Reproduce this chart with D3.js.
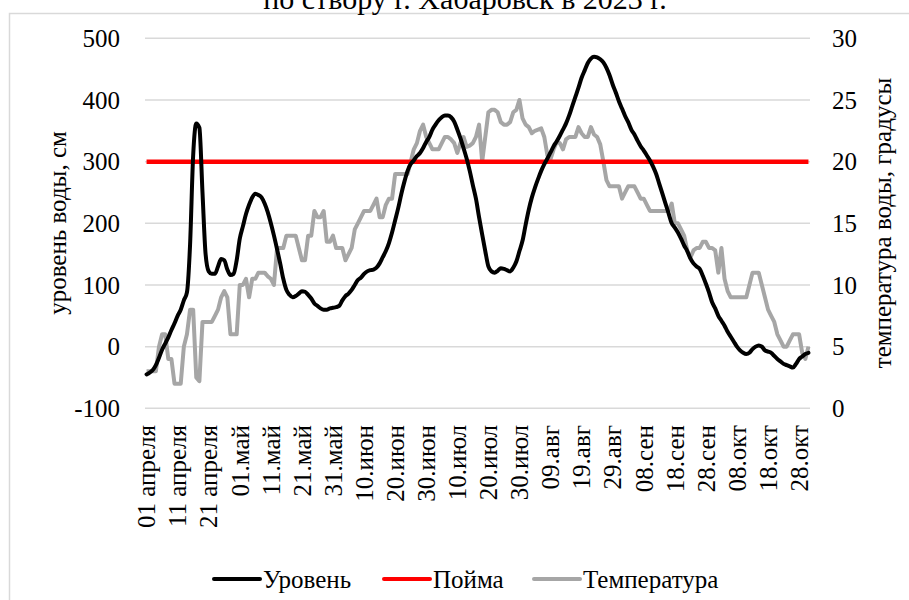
<!DOCTYPE html>
<html lang="ru">
<head>
<meta charset="utf-8">
<title>Уровень воды, Хабаровск 2023</title>
<script src="https://cdn.jsdelivr.net/npm/d3@7"></script>
<style>
  body { margin: 0; background: #fff; }
  svg { display: block; }
  text { font-family: "Liberation Serif", "Times New Roman", serif; fill: #000; }
</style>
</head>
<body>
<svg id="chart"></svg>
<script>

// уровень воды, см (ежедневно, 01.04 - 31.10)
var level = [
  -45,-42,-38,-30,-18,-5,5,15,27,38,50,60,75,88,165,310,362,355,250,150,
  122,118,118,130,142,140,125,116,118,140,175,195,215,230,242,248,246,242,232,218,
  200,180,158,135,110,92,84,80,82,86,90,89,84,78,70,66,62,60,60,62,
  63,64,66,75,82,86,92,100,108,112,118,122,124,125,128,135,145,155,168,185,
  205,225,248,268,285,296,302,309,314,322,332,340,352,360,367,372,375,375,372,365,
  352,338,322,305,285,262,240,210,182,155,130,122,120,123,127,126,124,122,128,138,
  155,172,198,222,242,258,272,285,296,305,315,325,333,342,352,362,375,390,405,420,
  436,448,460,467,470,469,466,461,452,440,425,412,398,386,374,364,352,344,334,325,
  318,310,302,292,280,264,248,232,216,200,193,185,175,164,155,143,135,130,126,115,
  102,88,72,62,50,42,34,24,16,8,0,-6,-10,-12,-10,-4,0,2,0,-6,
  -8,-10,-15,-20,-24,-28,-30,-32,-34,-28,-20,-16,-12,-10
];

// температура воды, градусы
var temperature = [
  3,3,3,3,5,6,6,4,4,2,2,2,5,6,8,8,2.5,2.2,7,7,
  7,7,7.5,8,9,9.5,9,6,6,6,10,10,10.5,9,10.5,10.5,11,11,11,10.7,
  10.5,10,13,13,13,14,14,14,14,13,12,12,14,14,16,15.5,15.5,16,13.5,13.5,
  14,13,13,13,12,12.5,13,14.5,15,15.5,16,16,16,16.5,17,15.5,15.5,16.5,17,17,
  19,19,19,19,19,20,21,21.5,22.5,23,22,21.5,21,21,21,21.5,22,22,21.8,21.5,
  20.7,21.5,22,21.2,21.3,21.5,22,23,20,22,24,24.2,24.2,24,23.2,23,23,23.2,24,24.2,
  25,23.5,23,22.8,22.3,22.5,22.6,22.7,22,20.5,20.2,21,21.6,21.5,21,21.8,22,22,22,22.8,
  22.3,22,22,22.8,22.2,22,21.4,20,18.5,18,18,18,18,17,17.5,18,18,18,17.5,17,
  17,16.5,16,16,16,16,16,16,16,16.6,15,15,14.5,14,12.8,12.2,12.8,13,13,13.5,
  13.5,13,13,12.8,11,13,10.5,9.5,9,9,9,9,9,9,10,11,11,11,10,9,
  8,7.5,7,6,5.5,5,5,5.5,6,6,6,4.5,4,5
];

// пойма, см
var floodplain = 300;

var xTickLabels = ["01 апреля","11 апреля","21 апреля","01.май","11.май","21.май","31.май",
  "10.июн","20.июн","30.июн","10.июл","20.июл","30.июл","09.авг","19.авг","29.авг",
  "08.сен","18.сен","28.сен","08.окт","18.окт","28.окт"];
var levelTicks = [-100, 0, 100, 200, 300, 400, 500];
var tempTicks = [0, 5, 10, 15, 20, 25, 30];

var width = 909, height = 600;
var fontSize = 25;

var svg = d3.select("#chart")
    .attr("width", width)
    .attr("height", height);

// рамка диаграммы
svg.append("rect")
    .attr("x", 9.5).attr("y", 13.5)
    .attr("width", 1000).attr("height", 700)
    .attr("fill", "none")
    .attr("stroke", "#d9d9d9")
    .attr("stroke-width", 1.5);

// заголовок (обрезан сверху)
svg.append("text")
    .attr("x", 465).attr("y", 9)
    .attr("text-anchor", "middle")
    .style("font-size", "30px")
    .text("по створу г. Хабаровск в 2023 г.");

var days = d3.range(level.length);

var x = d3.scalePoint()
    .domain(days)
    .range([145, 810])
    .padding(0.5);

var yLevel = d3.scaleLinear().domain([-100, 500]).range([408.3, 38.3]);
var yTemp = d3.scaleLinear().domain([0, 30]).range([408.3, 38.3]);

// сетка
svg.append("g").selectAll("line")
    .data(levelTicks)
    .enter().append("line")
    .attr("x1", 145).attr("x2", 810)
    .attr("y1", function(d) { return yLevel(d); })
    .attr("y2", function(d) { return yLevel(d); })
    .attr("stroke", "#d9d9d9")
    .attr("stroke-width", 1.5);

// левая ось
svg.append("g").selectAll("text")
    .data(levelTicks)
    .enter().append("text")
    .attr("x", 120)
    .attr("y", function(d) { return yLevel(d); })
    .attr("dy", "0.35em")
    .attr("text-anchor", "end")
    .style("font-size", fontSize + "px")
    .text(function(d) { return d; });

// правая ось
svg.append("g").selectAll("text")
    .data(tempTicks)
    .enter().append("text")
    .attr("x", 832)
    .attr("y", function(d) { return yTemp(d); })
    .attr("dy", "0.35em")
    .attr("text-anchor", "start")
    .style("font-size", fontSize + "px")
    .text(function(d) { return d; });

// подписи по оси X (каждые 10 дней)
svg.append("g").selectAll("text")
    .data(xTickLabels)
    .enter().append("text")
    .attr("transform", function(d, i) { return "translate(" + x(i * 10) + ",425) rotate(-90)"; })
    .attr("dy", "0.35em")
    .attr("text-anchor", "end")
    .style("font-size", fontSize + "px")
    .text(function(d) { return d; });

// названия осей
svg.append("text")
    .attr("transform", "translate(57,223) rotate(-90)")
    .attr("dy", "0.35em")
    .attr("text-anchor", "middle")
    .style("font-size", fontSize + "px")
    .text("уровень воды, см");

svg.append("text")
    .attr("transform", "translate(882,223) rotate(-90)")
    .attr("dy", "0.35em")
    .attr("text-anchor", "middle")
    .style("font-size", fontSize + "px")
    .text("температура воды, градусы");

// линии
var lineLevel = d3.line()
    .x(function(d, i) { return x(i); })
    .y(function(d) { return yLevel(d); })
    .curve(d3.curveMonotoneX);

var lineTemp = d3.line()
    .x(function(d, i) { return x(i); })
    .y(function(d) { return yTemp(d); });

svg.append("path")
    .datum(temperature)
    .attr("d", lineTemp)
    .attr("fill", "none")
    .attr("stroke", "#a6a6a6")
    .attr("stroke-width", 4)
    .attr("stroke-linejoin", "round");

svg.append("path")
    .datum(days.map(function() { return floodplain; }))
    .attr("d", d3.line().x(function(d, i) { return x(i); }).y(function(d) { return yLevel(d); }))
    .attr("fill", "none")
    .attr("stroke", "#ff0000")
    .attr("stroke-width", 4.5);

svg.append("path")
    .datum(level)
    .attr("d", lineLevel)
    .attr("fill", "none")
    .attr("stroke", "#000")
    .attr("stroke-width", 4)
    .attr("stroke-linejoin", "round")
    .attr("stroke-linecap", "round");

// легенда
var legend = [
  {name: "Уровень", color: "#000", x: 214},
  {name: "Пойма", color: "#ff0000", x: 384},
  {name: "Температура", color: "#a6a6a6", x: 534}
];

var lg = svg.append("g").selectAll("g")
    .data(legend)
    .enter().append("g")
    .attr("transform", function(d) { return "translate(" + d.x + ",579)"; });

lg.append("line")
    .attr("x1", 0).attr("x2", 46)
    .attr("stroke", function(d) { return d.color; })
    .attr("stroke-width", 4)
    .attr("stroke-linecap", "round");

lg.append("text")
    .attr("x", 49)
    .attr("dy", "0.35em")
    .style("font-size", fontSize + "px")
    .text(function(d) { return d.name; });

</script>
</body>
</html>
